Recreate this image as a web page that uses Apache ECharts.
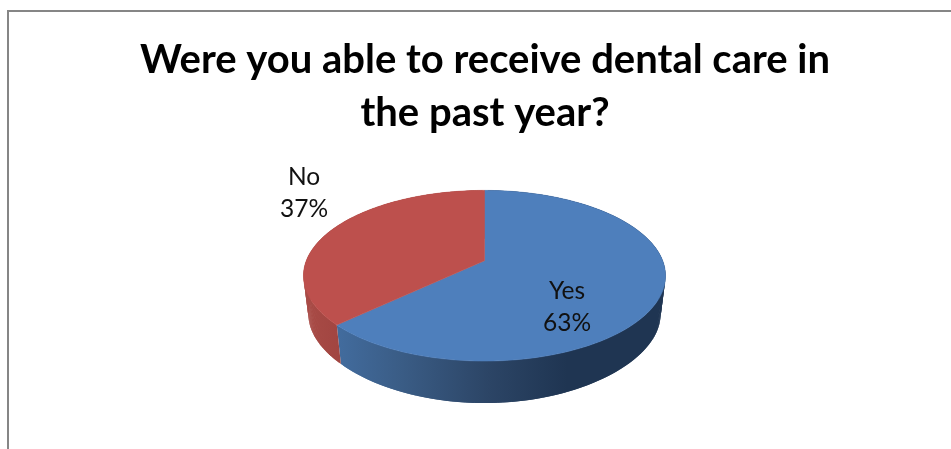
<!DOCTYPE html>
<html>
<head>
<meta charset="utf-8">
<style>html,body{margin:0;padding:0;background:#fff}#chart{width:951px;height:449px}</style>
<script src="https://cdn.jsdelivr.net/npm/echarts@6/dist/echarts.min.js"></script>
</head>
<body>
<div id="chart"></div>
<script>
const categories = ['Yes', 'No'];
const shares = [63, 37];
const titleLines = ['Were you able to receive dental care in', 'the past year?'];

// Projection of the disc: a circle tilted away from the viewer.
const apexX = 484.5, apexY = 260.7;
const radiusX = 178.2, radiusY = 82.7, perspective = 0.176;
// The underside of the disc has its own, slightly stronger foreshortening.
const lowerApexY = 300.4, lowerRadiusX = 173.3, lowerRadiusY = 77, lowerPerspective = 0.25;

const topColors = ['#4E7FBC', '#BD504D'];
const wallStops = [
  [[0, '#1F3552'], [0.3, '#1F3552'], [0.54, '#2C4566'], [0.8, '#3A5C85'], [1, '#426C9E']],
  [[0, '#A14541'], [0.8, '#A14541'], [1, '#A94B46']]
];

function project(fraction, lower) {
  const a = fraction * Math.PI * 2;
  const u = Math.sin(a), v = -Math.cos(a);
  const w = 1 - perspective * v;
  if (lower) {
    return [apexX + lowerRadiusX * u / w, lowerApexY + lowerRadiusY * v / (1 - lowerPerspective * v)];
  }
  return [apexX + radiusX * u / w, apexY + radiusY * v / w];
}

function arc(from, to, lower) {
  const pts = [];
  const steps = 180;
  for (let i = 0; i <= steps; i++) pts.push(project(from + (to - from) * i / steps, lower));
  return pts;
}

function sliceRange(index) {
  const total = shares.reduce((s, v) => s + v, 0);
  const start = shares.slice(0, index).reduce((s, v) => s + v, 0);
  return [start / total, (start + shares[index]) / total];
}

// The side wall is a run of overlapping quads, so its outline follows the
// tangent between the upper and lower rims instead of notching between them.
function renderWall(params) {
  const i = params.dataIndex;
  const [from, to] = sliceRange(i);
  const upper = arc(from, to, false);
  const lower = arc(from, to, true);
  const xs = upper.concat(lower).map(p => p[0]);
  const fill = {
    type: 'linear', global: true,
    x: Math.max(...xs), y: 0, x2: Math.min(...xs), y2: 0,
    colorStops: wallStops[i].map(s => ({ offset: s[0], color: s[1] }))
  };
  const children = [];
  for (let k = 0; k + 2 < upper.length; k++) {
    children.push({
      type: 'polygon',
      shape: { points: [upper[k], upper[k + 2], lower[k + 2], lower[k]] },
      style: { fill }
    });
  }
  return { type: 'group', children };
}

function renderTop(params) {
  const i = params.dataIndex;
  const [from, to] = sliceRange(i);
  const points = [[apexX, apexY]].concat(arc(from, to, false));
  return {
    type: 'polygon',
    shape: { points },
    style: { fill: topColors[i], stroke: topColors[i], lineWidth: 0.5 }
  };
}

const labelSpots = [[567, 307], [304, 193]];
function renderLabel(params) {
  const i = params.dataIndex;
  return {
    type: 'text',
    x: labelSpots[i][0], y: labelSpots[i][1],
    style: {
      text: categories[i] + '\n' + shares[i] + '%',
      font: '24.5px Lato, sans-serif',
      lineHeight: 32,
      fill: '#111',
      align: 'center',
      verticalAlign: 'middle'
    }
  };
}

const chart = echarts.init(document.getElementById('chart'), null, { renderer: 'canvas' });
const rows = categories.map((c, i) => [c, shares[i]]);
chart.setOption({
  animation: false,
  backgroundColor: '#ffffff',
  title: {
    text: titleLines.join('\n'),
    left: 480, top: 29, textAlign: 'center',
    textStyle: { fontFamily: 'Lato, sans-serif', fontWeight: 'bold', fontSize: 40, lineHeight: 53, color: '#000' }
  },
  graphic: [{
    type: 'polyline',
    shape: { points: [[8, 449], [8, 11], [951, 11]] },
    style: { stroke: '#868686', lineWidth: 2, fill: null }
  }],
  series: [
    { type: 'custom', name: 'wall', coordinateSystem: 'none', data: rows, renderItem: renderWall, silent: true, z: 2 },
    { type: 'custom', name: 'top', coordinateSystem: 'none', data: rows, renderItem: renderTop, silent: true, z: 3 },
    { type: 'custom', name: 'label', coordinateSystem: 'none', data: rows, renderItem: renderLabel, silent: true, z: 4 }
  ]
});
</script>
</body>
</html>
